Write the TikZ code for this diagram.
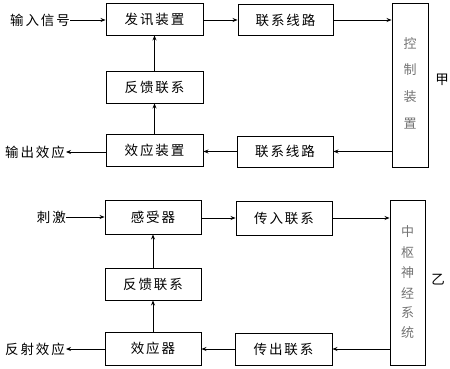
\documentclass[tikz,border=0pt]{standalone}
\usepackage{fontspec}
\setmainfont{Noto Sans CJK SC}
\newfontfamily\cjkls[LetterSpace=14]{Noto Sans CJK SC}
\usetikzlibrary{arrows.meta}
\begin{document}
\begin{tikzpicture}[x=1pt,y=-1pt,
  box/.style={draw,line width=0.9pt,inner sep=0pt,font=\cjkls\fontsize{13.5}{15}\selectfont},
  lbl/.style={font=\cjkls\fontsize{13.5}{15}\selectfont,inner sep=0pt},
  ctl/.style={draw,line width=0.9pt,inner sep=0pt},
  vtxt/.style={text=black!55,font=\fontsize{13}{15}\selectfont,inner sep=0pt},
  arr/.style={-{Stealth[length=5pt,width=4pt]},line width=0.8pt}]
\useasboundingbox (0,0) rectangle (450,369);
% top part (甲)
\node[box,minimum width=97pt,minimum height=32pt] (fx) at (154.5,19) {发讯装置};
\node[box,minimum width=95pt,minimum height=31pt] (l1) at (285.5,20) {联系线路};
\node[box,minimum width=97pt,minimum height=32pt] (fk1) at (154.5,87) {反馈联系};
\node[box,minimum width=97pt,minimum height=32pt] (xy) at (154.5,150) {效应装置};
\node[box,minimum width=96pt,minimum height=31pt] (l2) at (285,151.5) {联系线路};
\node[ctl,minimum width=36pt,minimum height=164pt] (kz) at (410,85) {};
\node[vtxt] (k1) at (410,44) {控};
\node[vtxt] (k2) at (410,70) {制};
\node[vtxt] (k3) at (410,97) {装};
\node[vtxt] (k4) at (410,124) {置};
\node[lbl] (jia) at (442,80) {甲};
\node[lbl,anchor=east] (in1) at (70,20) {输入信号};
\node[lbl,anchor=east] (out1) at (65,152) {输出效应};
\draw[arr] (in1.east) -- (fx.west|-in1.east);
\draw[arr] (fx.east|-l1.west) -- (l1.west);
\draw[arr] (l1.east) -- (kz.west|-l1.east);
\draw[arr] (kz.west|-l2.east) -- (l2.east);
\draw[arr] (l2.west) -- (xy.east|-l2.west);
\draw[arr] (xy.west|-out1.east) -- ([xshift=1pt]out1.east);
\draw[arr] (xy.north) -- (fk1.south);
\draw[arr] (fk1.north) -- (fx.south);
% bottom part (乙)
\node[box,minimum width=96pt,minimum height=34pt] (gs) at (153,217) {感受器};
\node[box,minimum width=96pt,minimum height=34pt] (cr) at (284,218) {传入联系};
\node[box,minimum width=96pt,minimum height=32pt] (fk2) at (153,284) {反馈联系};
\node[box,minimum width=96pt,minimum height=33pt] (xyq) at (153,348.5) {效应器};
\node[box,minimum width=97pt,minimum height=32pt] (cc) at (283.5,349) {传出联系};
\node[ctl,minimum width=35pt,minimum height=165pt] (zs) at (407.5,282.5) {};
\node[vtxt] (z1) at (407.5,232) {中};
\node[vtxt] (z2) at (407.5,252.5) {枢};
\node[vtxt] (z3) at (407.5,273) {神};
\node[vtxt] (z4) at (407.5,293) {经};
\node[vtxt] (z5) at (407.5,313) {系};
\node[vtxt] (z6) at (407.5,333) {统};
\node[lbl] (yi) at (438,280) {乙};
\node[lbl,anchor=east] (in2) at (66,217) {刺激};
\node[lbl,anchor=east] (out2) at (65,349) {反射效应};
\draw[arr] (in2.east) -- (gs.west|-in2.east);
\draw[arr] (gs.east|-cr.west) -- (cr.west);
\draw[arr] (cr.east) -- (zs.west|-cr.east);
\draw[arr] (zs.west|-cc.east) -- (cc.east);
\draw[arr] (cc.west) -- (xyq.east|-cc.west);
\draw[arr] (xyq.west|-out2.east) -- ([xshift=1pt]out2.east);
\draw[arr] (xyq.north) -- (fk2.south);
\draw[arr] (fk2.north) -- (gs.south);
\end{tikzpicture}
\end{document}
